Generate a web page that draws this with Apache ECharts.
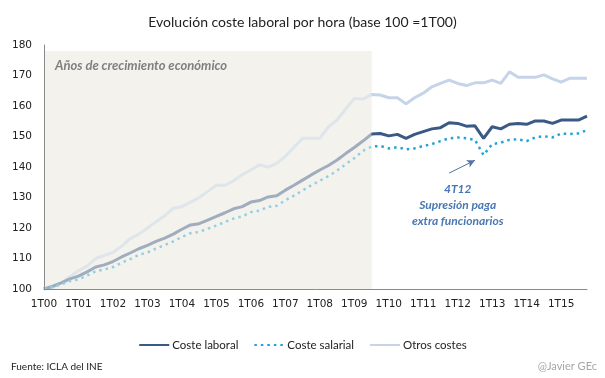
<!DOCTYPE html>
<html><head><meta charset="utf-8">
<script src="https://cdn.jsdelivr.net/npm/echarts@6/dist/echarts.min.js"></script>
<style>html,body{margin:0;padding:0;background:#fff}#c{width:605px;height:378px}</style>
</head><body><div id="c"></div>
<script>
var years = ['00','01','02','03','04','05','06','07','08','09','10','11','12','13','14','15'];
var categories = [];
years.forEach(function(y){ for (var q=1;q<=4;q++) categories.push(q+'T'+y); });

var costeLaboral = [100,100.9,102.0,103.3,104.2,105.6,107.2,107.9,109.0,110.5,111.8,113.2,114.3,115.6,116.7,118.0,119.6,121.0,121.4,122.6,123.8,125.0,126.3,127.0,128.5,129.0,130.2,130.6,132.4,134.0,135.7,137.4,139.0,140.5,142.3,144.4,146.4,148.5,
  150.8,151.0,150.2,150.7,149.4,150.7,151.6,152.5,152.9,154.5,154.3,153.4,153.5,149.4,153.2,152.5,154.0,154.3,154.0,155.1,155.1,154.3,155.4,155.4,155.4,156.7];
var costeSalarial = [100,100.6,101.5,102.6,103.2,104.4,105.8,106.4,107.2,108.6,109.8,111.2,112.0,113.3,114.4,115.6,117.1,118.3,118.7,119.8,120.8,122.0,123.1,123.8,125.2,125.7,126.9,127.3,129.1,130.6,132.3,134.0,135.5,137.0,138.8,140.9,142.9,145.3,
  146.7,146.9,146.1,146.5,145.8,146.1,146.9,147.5,148.5,149.4,149.7,149.4,148.9,143.9,147.5,148.0,148.9,149.1,148.5,149.7,150.1,149.7,151.0,150.8,151.0,152.1];
var otrosCostes = [100,100.5,102,104,106,107.5,110,111,112,114,116.5,118,120,122,124,126.5,127,128.5,130,132,134,134,135.5,137.5,139,140.7,140,141.2,143.5,146.5,149.4,149.4,149.4,153.2,155.4,159,162.5,162.2,
  163.8,163.6,162.7,162.7,160.7,162.7,164.2,166.3,167.4,168.5,167.4,166.7,167.6,167.6,168.5,167.4,171.2,169.4,169.4,169.4,170.2,168.9,167.8,169.1,169.1,169.1];

var seriesNames = ['Coste laboral','Coste salarial','Otros costes'];
var shadeRange = [0, 38];       // 1T00 .. 3T09
var shadeTop = 178;
var shadeLabel = 'Años de crecimiento económico';
var annotText = '4T12\nSupresión paga\nextra funcionarios';
var annotAt = [48, 119.5];
var arrowFrom = [47, 138], arrowTo = [50, 142.2];

var shadeColor = '#f3f2ec';
var font = 'DejaVu Sans';
var font2 = 'Lato';

var chart = echarts.init(document.getElementById('c'), null, {renderer:'canvas'});
chart.setOption({
  animation: false,
  backgroundColor: '#fff',
  title: [
    {text: 'Evolución coste laboral por hora (base 100 =1T00)', left: 'center', top: 10,
     textStyle: {fontFamily: font2, fontSize: 14, fontWeight: 'normal', color: '#222'}},
    {text: 'Fuente: ICLA del INE', left: 6, top: 357,
     textStyle: {fontFamily: font2, fontSize: 10, fontWeight: 'normal', color: '#222'}},
    {text: '@Javier GEc', right: 3, top: 356,
     textStyle: {fontFamily: font2, fontSize: 11, fontWeight: 'normal', color: '#a6a6a6'}}
  ],
  legend: {
    data: seriesNames, left: 'center', top: 334, itemWidth: 30, itemHeight: 12, itemGap: 15,
    itemStyle: {color: 'transparent', borderWidth: 0, opacity: 0},
    textStyle: {fontFamily: font2, fontSize: 11.5, color: '#222', padding: [0,0,0,-2]}
  },
  grid: {left: 44, right: 18, top: 45, bottom: 89},
  xAxis: {
    type: 'category', data: categories, boundaryGap: false, z: 20,
    axisLine: {show: true, lineStyle: {color: '#8a8a8a', width: 1}},
    axisTick: {show: false},
    axisLabel: {interval: 3, margin: 10, fontFamily: font, fontSize: 10.5, color: '#222'},
    splitLine: {show: false}
  },
  yAxis: {
    type: 'value', min: 100, max: 180, interval: 10, z: 20,
    axisLine: {show: true, lineStyle: {color: '#8a8a8a', width: 1}},
    axisTick: {show: false},
    axisLabel: {margin: 12, fontFamily: font, fontSize: 10.5, color: '#222'},
    splitLine: {show: false}
  },
  series: [
    {name: 'shadeBelow', type: 'line', data: [], z: 1, silent: true,
     markArea: {silent: true, z: 0, itemStyle: {color: shadeColor},
       data: [[{coord: [shadeRange[0], 100]}, {coord: [shadeRange[1], shadeTop]}]]}},
    {name: seriesNames[2], type: 'line', data: otrosCostes, z: 2, symbol: 'none', showSymbol: false,
     itemStyle: {color: '#c6d4e9'}, lineStyle: {color: '#c6d4e9', width: 3}},
    {name: seriesNames[0], type: 'line', data: costeLaboral, z: 3, symbol: 'none', showSymbol: false,
     itemStyle: {color: '#3a5a85'}, lineStyle: {color: '#3a5a85', width: 3}},
    {name: seriesNames[1], type: 'line', data: costeSalarial, z: 3, symbol: 'none', showSymbol: false,
     itemStyle: {color: '#22a3d6'}, lineStyle: {color: '#22a3d6', width: 2.5, type: [2.5, 4]}},
    {name: 'shadeAbove', type: 'line', data: [], z: 10, silent: true,
     markArea: {silent: true, z: 10, itemStyle: {color: 'rgba(243,242,236,0.55)'},
       label: {show: true, position: 'insideTopLeft', offset: [6, 3], formatter: shadeLabel,
         fontFamily: font2, fontSize: 13, fontStyle: 'italic', fontWeight: 'bold', color: '#7f7f7f'},
       data: [[{coord: [shadeRange[0], 100]}, {coord: [shadeRange[1], shadeTop]}]]}},
    {name: 'annot', type: 'line', data: [], z: 11, silent: true,
     markLine: {silent: true, z: 11, symbol: ['none', 'arrow'], symbolSize: [6, 8],
       lineStyle: {color: '#5573a3', width: 1, type: 'solid'}, label: {show: false},
       data: [[{coord: arrowFrom}, {coord: arrowTo}]]},
     markPoint: {silent: true, z: 11, symbol: 'circle', symbolSize: 0,
       label: {show: true, position: 'top', distance: 0, formatter: annotText, lineHeight: 16, align: 'center',
         fontFamily: font2, fontSize: 12, fontStyle: 'italic', fontWeight: 'bold', color: '#4a78b4'},
       data: [{coord: annotAt}]}}
  ]
});
</script></body></html>
